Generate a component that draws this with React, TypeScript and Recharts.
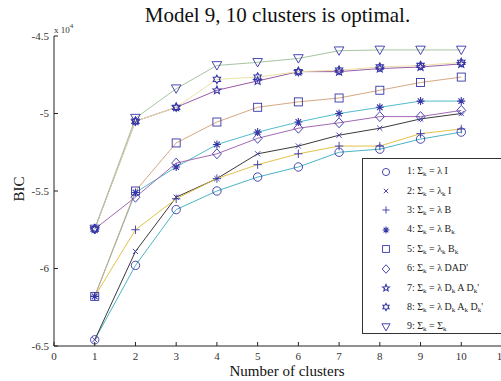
import React from 'react';
import { LineChart, Line, XAxis, YAxis, Legend } from 'recharts';

// cluster counts on the x axis
const clusters = [1, 2, 3, 4, 5, 6, 7, 8, 9, 10];
const xTicks = [0, 1, 2, 3, 4, 5, 6, 7, 8, 9, 10, 11];
const yTicks = [-6.5, -6, -5.5, -5, -4.5];

// BIC values, in units of 10^4
const model1 = [-6.46, -5.98, -5.62, -5.5, -5.41, -5.345, -5.25, -5.23, -5.165, -5.12];
const model2 = [-6.46, -5.89, -5.54, -5.42, -5.26, -5.21, -5.14, -5.095, -5.035, -5.0];
const model3 = [-6.18, -5.75, -5.55, -5.42, -5.33, -5.26, -5.21, -5.21, -5.13, -5.1];
const model4 = [-6.18, -5.51, -5.345, -5.2, -5.12, -5.055, -5.0, -4.96, -4.92, -4.92];
const model5 = [-6.18, -5.5, -5.19, -5.055, -4.96, -4.925, -4.9, -4.85, -4.8, -4.765];
const model6 = [-5.745, -5.54, -5.32, -5.26, -5.16, -5.095, -5.06, -5.02, -5.02, -4.98];
const model7 = [-5.745, -5.05, -4.96, -4.85, -4.79, -4.73, -4.73, -4.71, -4.7, -4.68];
const model8 = [-5.745, -5.05, -4.96, -4.78, -4.765, -4.73, -4.72, -4.7, -4.69, -4.67];
const model9 = [-5.745, -5.03, -4.84, -4.69, -4.67, -4.645, -4.595, -4.59, -4.59, -4.59];

const legendLabels = [
  '1: Σ_k = λ I',
  '2: Σ_k = λ_k I',
  '3: Σ_k = λ B',
  '4: Σ_k = λ B_k',
  '5: Σ_k = λ_k B_k',
  "6: Σ_k = λ DAD'",
  "7: Σ_k = λ D_k A D_k'",
  "8: Σ_k = λ D_k A_k D_k'",
  '9: Σ_k = Σ_k',
];

const allModels = [model1, model2, model3, model4, model5, model6, model7, model8, model9];
const lineColors = ['#4cb4c4', '#3a3a3a', '#e2c24a', '#52bccc', '#d6a883', '#a46ab4', '#9a5aa8', '#ebe2a6', '#a6c4a2'];
const markers = ['circle', 'x', 'plus', 'star', 'square', 'diamond', 'pentagram', 'hexagram', 'triangle'];
const MARK = '#3636a6';
const FONT = '"Liberation Serif", "Times New Roman", serif';

const data = clusters.map((c, i) => {
  const row: any = { x: c };
  allModels.forEach((m, j) => { row[`m${j + 1}`] = m[i]; });
  return row;
});

const starPath = (cx: number, cy: number, n: number, ro: number, ri: number, rot: number) => {
  let d = '';
  for (let i = 0; i < n * 2; i++) {
    const r = i % 2 === 0 ? ro : ri;
    const a = rot + (Math.PI * i) / n;
    d += `${i === 0 ? 'M' : 'L'}${cx + r * Math.cos(a)},${cy + r * Math.sin(a)}`;
  }
  return d + 'Z';
};

const Marker = ({ kind, cx, cy, s = 1 }: { kind: string; cx: number; cy: number; s?: number }) => {
  const p = { fill: 'none', stroke: MARK, strokeWidth: 0.9 };
  switch (kind) {
    case 'circle':
      return <circle cx={cx} cy={cy} r={4.2 * s} {...p} />;
    case 'x': {
      const h = 2.6 * s;
      return <path d={`M${cx - h},${cy - h}L${cx + h},${cy + h}M${cx - h},${cy + h}L${cx + h},${cy - h}`} {...p} />;
    }
    case 'plus': {
      const h = 4.2 * s;
      return <path d={`M${cx - h},${cy}L${cx + h},${cy}M${cx},${cy - h}L${cx},${cy + h}`} {...p} />;
    }
    case 'star': {
      const h = 4 * s;
      const g = 2.8 * s;
      return (
        <path
          d={`M${cx - h},${cy}L${cx + h},${cy}M${cx},${cy - h}L${cx},${cy + h}M${cx - g},${cy - g}L${cx + g},${cy + g}M${cx - g},${cy + g}L${cx + g},${cy - g}`}
          {...p}
          strokeWidth={1.1}
        />
      );
    }
    case 'square': {
      const h = 4 * s;
      return <rect x={cx - h} y={cy - h} width={2 * h} height={2 * h} {...p} />;
    }
    case 'diamond':
      return <path d={`M${cx},${cy - 5 * s}L${cx + 4.5 * s},${cy}L${cx},${cy + 5 * s}L${cx - 4.5 * s},${cy}Z`} {...p} />;
    case 'pentagram':
      return <path d={starPath(cx, cy, 5, 4.2 * s, 1.9 * s, -Math.PI / 2)} {...p} strokeWidth={1.1} />;
    case 'hexagram':
      return <path d={starPath(cx, cy, 6, 4.2 * s, 2.4 * s, -Math.PI / 2)} {...p} strokeWidth={1.1} />;
    case 'triangle':
      return <path d={`M${cx - 4.8 * s},${cy - 3.8 * s}L${cx + 4.8 * s},${cy - 3.8 * s}L${cx},${cy + 4.6 * s}Z`} {...p} />;
    default:
      return null;
  }
};

const XTick = ({ x, y, payload }: any) => (
  <g>
    <line x1={x} x2={x} y1={y - 4} y2={y - 8} stroke="#222" />
    <text x={x} y={y + 2} dy="0.71em" textAnchor="middle" fontSize={11} fill="#333" fontFamily={FONT}>
      {payload.value}
    </text>
  </g>
);

const YTick = ({ x, y, payload }: any) => (
  <g>
    <line x1={x + 4} x2={x + 8} y1={y} y2={y} stroke="#222" />
    <text x={x - 1} y={y} dy="0.355em" textAnchor="end" fontSize={11} fill="#333" fontFamily={FONT}>
      {payload.value}
    </text>
  </g>
);

const LegendLabel = ({ text }: { text: string }) => {
  const parts = text.split('_k');
  return (
    <span>
      {parts.map((s, i) => (
        <React.Fragment key={i}>
          {s}
          {i < parts.length - 1 && <sub style={{ fontSize: 7, verticalAlign: -2 }}>k</sub>}
        </React.Fragment>
      ))}
    </span>
  );
};

const renderLegend = () => (
  <div
    style={{
      border: '1px solid #333',
      background: '#fff',
      width: 160,
      height: 176,
      boxSizing: 'border-box',
      paddingTop: 3,
      fontFamily: FONT,
      fontSize: 10,
      color: '#222',
    }}
  >
    {legendLabels.map((lab, i) => (
      <div key={i} style={{ display: 'flex', alignItems: 'center', height: 19.4 }}>
        <svg width={12} height={12} style={{ marginLeft: 17, marginRight: 15 }}>
          <Marker kind={markers[i]} cx={6} cy={6} s={0.85} />
        </svg>
        <LegendLabel text={lab} />
      </div>
    ))}
  </div>
);

export default function App() {
  return (
    <div
      style={{
        position: 'absolute',
        left: 0,
        top: 0,
        width: 501,
        height: 381,
        overflow: 'hidden',
        background: '#fff',
        fontFamily: FONT,
      }}
    >
      <LineChart width={520} height={381} data={data} margin={{ top: 36, right: 18, bottom: 0, left: 0 }}>
        <XAxis
          dataKey="x"
          type="number"
          domain={[0, 11]}
          ticks={xTicks}
          height={35}
          tickSize={0}
          tickMargin={4}
          tickLine={false}
          tick={<XTick />}
          axisLine={{ stroke: '#222' }}
          allowDataOverflow
        />
        <YAxis
          type="number"
          domain={[-6.5, -4.5]}
          ticks={yTicks}
          width={54}
          tickSize={0}
          tickMargin={4}
          tickLine={false}
          tick={<YTick />}
          axisLine={{ stroke: '#222' }}
          allowDataOverflow
        />
        {allModels.map((_, j) => (
          <Line
            key={j}
            dataKey={`m${j + 1}`}
            stroke={lineColors[j]}
            strokeWidth={1}
            type="linear"
            isAnimationActive={false}
            dot={(props: any) => (
              <Marker key={`d${j}-${props.index}`} kind={markers[j]} cx={props.cx} cy={props.cy} />
            )}
            activeDot={false}
          />
        ))}
        <Legend
          layout="horizontal"
          verticalAlign="middle"
          align="center"
          content={renderLegend}
          wrapperStyle={{ left: 362, top: 158, width: 160, height: 176 }}
        />
      </LineChart>
      <div style={{ position: 'absolute', left: 0, width: 555, top: 2, textAlign: 'center', fontSize: 21, color: '#111', lineHeight: '26px' }}>
        Model 9, 10 clusters is optimal.
      </div>
      <div style={{ position: 'absolute', left: 54, top: 22, fontSize: 9, color: '#333' }}>
        x 10<sup style={{ fontSize: 7, verticalAlign: 5 }}>4</sup>
      </div>
      <div
        style={{
          position: 'absolute',
          left: 19,
          top: 189,
          transform: 'translate(-50%, -50%) rotate(-90deg)',
          fontSize: 15,
          color: '#111',
        }}
      >
        BIC
      </div>
      <div style={{ position: 'absolute', left: 140, width: 294, top: 363, textAlign: 'center', fontSize: 15, color: '#111', lineHeight: '17px' }}>
        Number of clusters
      </div>
    </div>
  );
}
